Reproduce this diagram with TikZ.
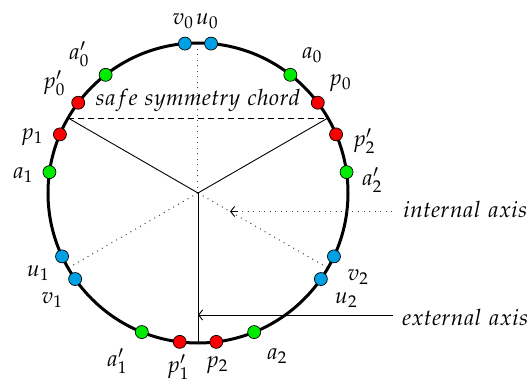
\documentclass[tikz,border=0pt]{standalone}
\usepackage{mathpazo}
\usetikzlibrary{arrows.meta}
\definecolor{dotblue}{RGB}{0,160,228}
\definecolor{dotred}{RGB}{250,0,0}
\definecolor{dotgreen}{RGB}{0,235,0}
\tikzset{
  dot/.style={circle, draw=black, line width=0.7pt, minimum size=13pt, inner sep=0pt},
  bdot/.style={dot, fill=dotblue},
  rdot/.style={dot, fill=dotred},
  gdot/.style={dot, fill=dotgreen},
  lbl/.style={inner sep=1pt, font=\fontsize{22.5}{26}\selectfont},
  axisline/.style={line width=0.9pt},
  dotline/.style={line width=1pt, dash pattern=on 1pt off 4.5pt, black!75},
  tip/.style={-{Straight Barb[length=4pt,width=10pt]}},
}
\begin{document}
\begin{tikzpicture}[x=1pt,y=1pt]
\useasboundingbox (-198,-190) rectangle (330,193);
\coordinate (c) at (0,0);
\coordinate (top) at (90:150);
\coordinate (eL) at (150:150);
\coordinate (eR) at (30:150);
\coordinate (eB) at (270:150);
\coordinate (iL) at (210:150);
\coordinate (iR) at (330:150);
\coordinate (iArrow) at (330:37);
\coordinate (iTip) at (40,-18.5);
\coordinate (eArrow) at (0,-122);
% axes
\draw[dotline] (c) -- (top);
\draw[dotline] (c) -- (iL);
\draw[dotline] (c) -- (iR);
\draw[axisline] (c) -- (eL);
\draw[axisline] (c) -- (eR);
\draw[axisline] (c) -- (eB);
\draw[axisline, dash pattern=on 6pt off 4pt] (eL) -- (eR);
% circle
\draw[line width=3pt] (c) circle (150);
% dots
\node[bdot] (u0) at (85:150) {};
\node[bdot] (v0) at (95:150) {};
\node[gdot] (a0) at (52:150) {};
\node[gdot] (a0p) at (128:150) {};
\node[rdot] (p0) at (37:150) {};
\node[rdot] (p0p) at (143:150) {};
\node[rdot] (p1) at (157:150) {};
\node[gdot] (a1) at (172:150) {};
\node[bdot] (u1) at (205:150) {};
\node[bdot] (v1) at (215:150) {};
\node[gdot] (a1p) at (248:150) {};
\node[rdot] (p1p) at (263:150) {};
\node[rdot] (p2) at (277:150) {};
\node[gdot] (a2) at (292:150) {};
\node[bdot] (u2) at (325:150) {};
\node[bdot] (v2) at (335:150) {};
\node[gdot] (a2p) at (8:150) {};
\node[rdot] (p2p) at (23:150) {};
% labels
\node[lbl] (lv0) at (-15,172) {$v_0$};
\node[lbl] (lu0) at (9,172) {$u_0$};
\node[lbl] (la0p) at (-119,139) {$a_0'$};
\node[lbl] (lp0p) at (-144,110) {$p_0'$};
\node[lbl] (lp1) at (-166,56) {$p_1$};
\node[lbl] (la1) at (-175,18) {$a_1$};
\node[lbl] (la0) at (114,138) {$a_0$};
\node[lbl] (lp0) at (142,110) {$p_0$};
\node[lbl] (lp2p) at (166,52) {$p_2'$};
\node[lbl] (la2p) at (174,13) {$a_2'$};
\node[lbl] (lu1) at (-160,-80) {$u_1$};
\node[lbl] (lv1) at (-146,-107) {$v_1$};
\node[lbl] (lv2) at (160,-84) {$v_2$};
\node[lbl] (lu2) at (148,-107) {$u_2$};
\node[lbl] (la1p) at (-81,-168) {$a_1'$};
\node[lbl] (lp1p) at (-20,-174) {$p_1'$};
\node[lbl] (lp2) at (19,-172) {$p_2$};
\node[lbl] (la2) at (79,-163) {$a_2$};
\node[lbl, anchor=base] (chord) at (0,87) {$safe\ symmetry\ chord$};
\node[lbl, anchor=base west, inner sep=0pt] (int) at (205,-24) {$internal\ axis$};
\node[lbl, anchor=base west, inner sep=0pt] (ext) at (204,-132) {$external\ axis$};
\coordinate (intS) at (194,-18.5);
\coordinate (extS) at (195,-122);
\draw[dotline] (intS) -- (iArrow);
\draw[axisline, tip] (iTip) -- (iArrow);
\draw[axisline, tip] (extS) -- (eArrow);
\end{tikzpicture}
\end{document}
